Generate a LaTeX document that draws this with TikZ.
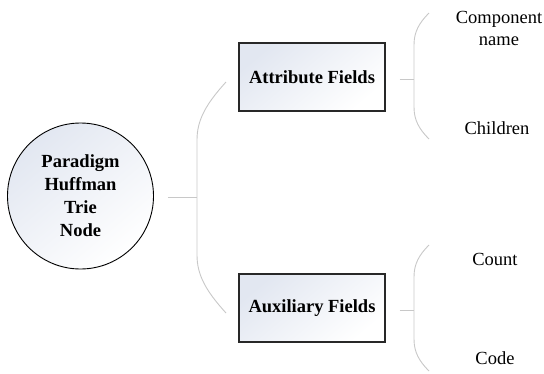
\documentclass[tikz,border=0pt]{standalone}
\usepackage{fontspec}
\setmainfont{Liberation Serif}
\usetikzlibrary{calc}
\definecolor{linkgray}{RGB}{200,200,200}
\definecolor{shadeblue}{RGB}{226,231,241}
\definecolor{frame}{RGB}{40,40,40}
\tikzset{
  rootnode/.style={circle, draw=black, line width=0.9pt, minimum size=146pt, inner sep=0pt,
    top color=shadeblue, bottom color=white, shading angle=40,
    font=\fontsize{18.5}{23}\selectfont\bfseries, align=center},
  fieldbox/.style={rectangle, draw=frame, line width=1.1pt, minimum width=146pt, minimum height=68pt,
    top color=shadeblue, bottom color=white, shading angle=40,
    font=\fontsize{18.5}{22}\selectfont\bfseries},
  leaf/.style={font=\fontsize{18.5}{22}\selectfont, align=center, inner sep=0pt},
  conn/.style={draw=linkgray, line width=0.9pt},
}
\begin{document}
\begin{tikzpicture}[x=1pt, y=-1pt]
  \useasboundingbox (0,0) rectangle (544,373);

  % main node and the two field groups
  \node[rootnode] (root) at (80.5,196) {Paradigm\\Huffman\\Trie\\Node};
  \node[fieldbox] (attr) at (312,77) {Attribute Fields};
  \node[fieldbox] (aux) at (312,308) {Auxiliary Fields};

  % leaf labels
  \node[leaf] (comp) at (499,28) {Component\\name};
  \node[leaf] (child) at (497,128) {Children};
  \node[leaf] (count) at (495,259) {Count};
  \node[leaf] (code) at (495,358) {Code};

  % brace joints and tips
  \coordinate (lj) at (197,197.5);
  \coordinate (ltop) at (226,82);
  \coordinate (lbot) at (226,313);
  \coordinate (aj) at (414,79);
  \coordinate (atop) at (429,13);
  \coordinate (abot) at (429,139);
  \coordinate (xj) at (414,310);
  \coordinate (xtop) at (429,245);
  \coordinate (xbot) at (429,371);

  % root -> field groups
  \draw[conn, shorten <=14pt] (root.east |- lj) -- (lj);
  \draw[conn] (ltop) .. controls (206,104) and (197,120) .. (197,140)
      -- (197,255) .. controls (197,275) and (206,291) .. (lbot);

  % attribute fields -> leaves
  \draw[conn, shorten <=14pt] (attr.east |- aj) -- (aj);
  \draw[conn] (atop) .. controls (419,23) and (414,32) .. (414,45)
      -- (414,107) .. controls (414,120) and (419,129) .. (abot);

  % auxiliary fields -> leaves
  \draw[conn, shorten <=14pt] (aux.east |- xj) -- (xj);
  \draw[conn] (xtop) .. controls (419,255) and (414,264) .. (414,277)
      -- (414,339) .. controls (414,352) and (419,361) .. (xbot);
\end{tikzpicture}
\end{document}
